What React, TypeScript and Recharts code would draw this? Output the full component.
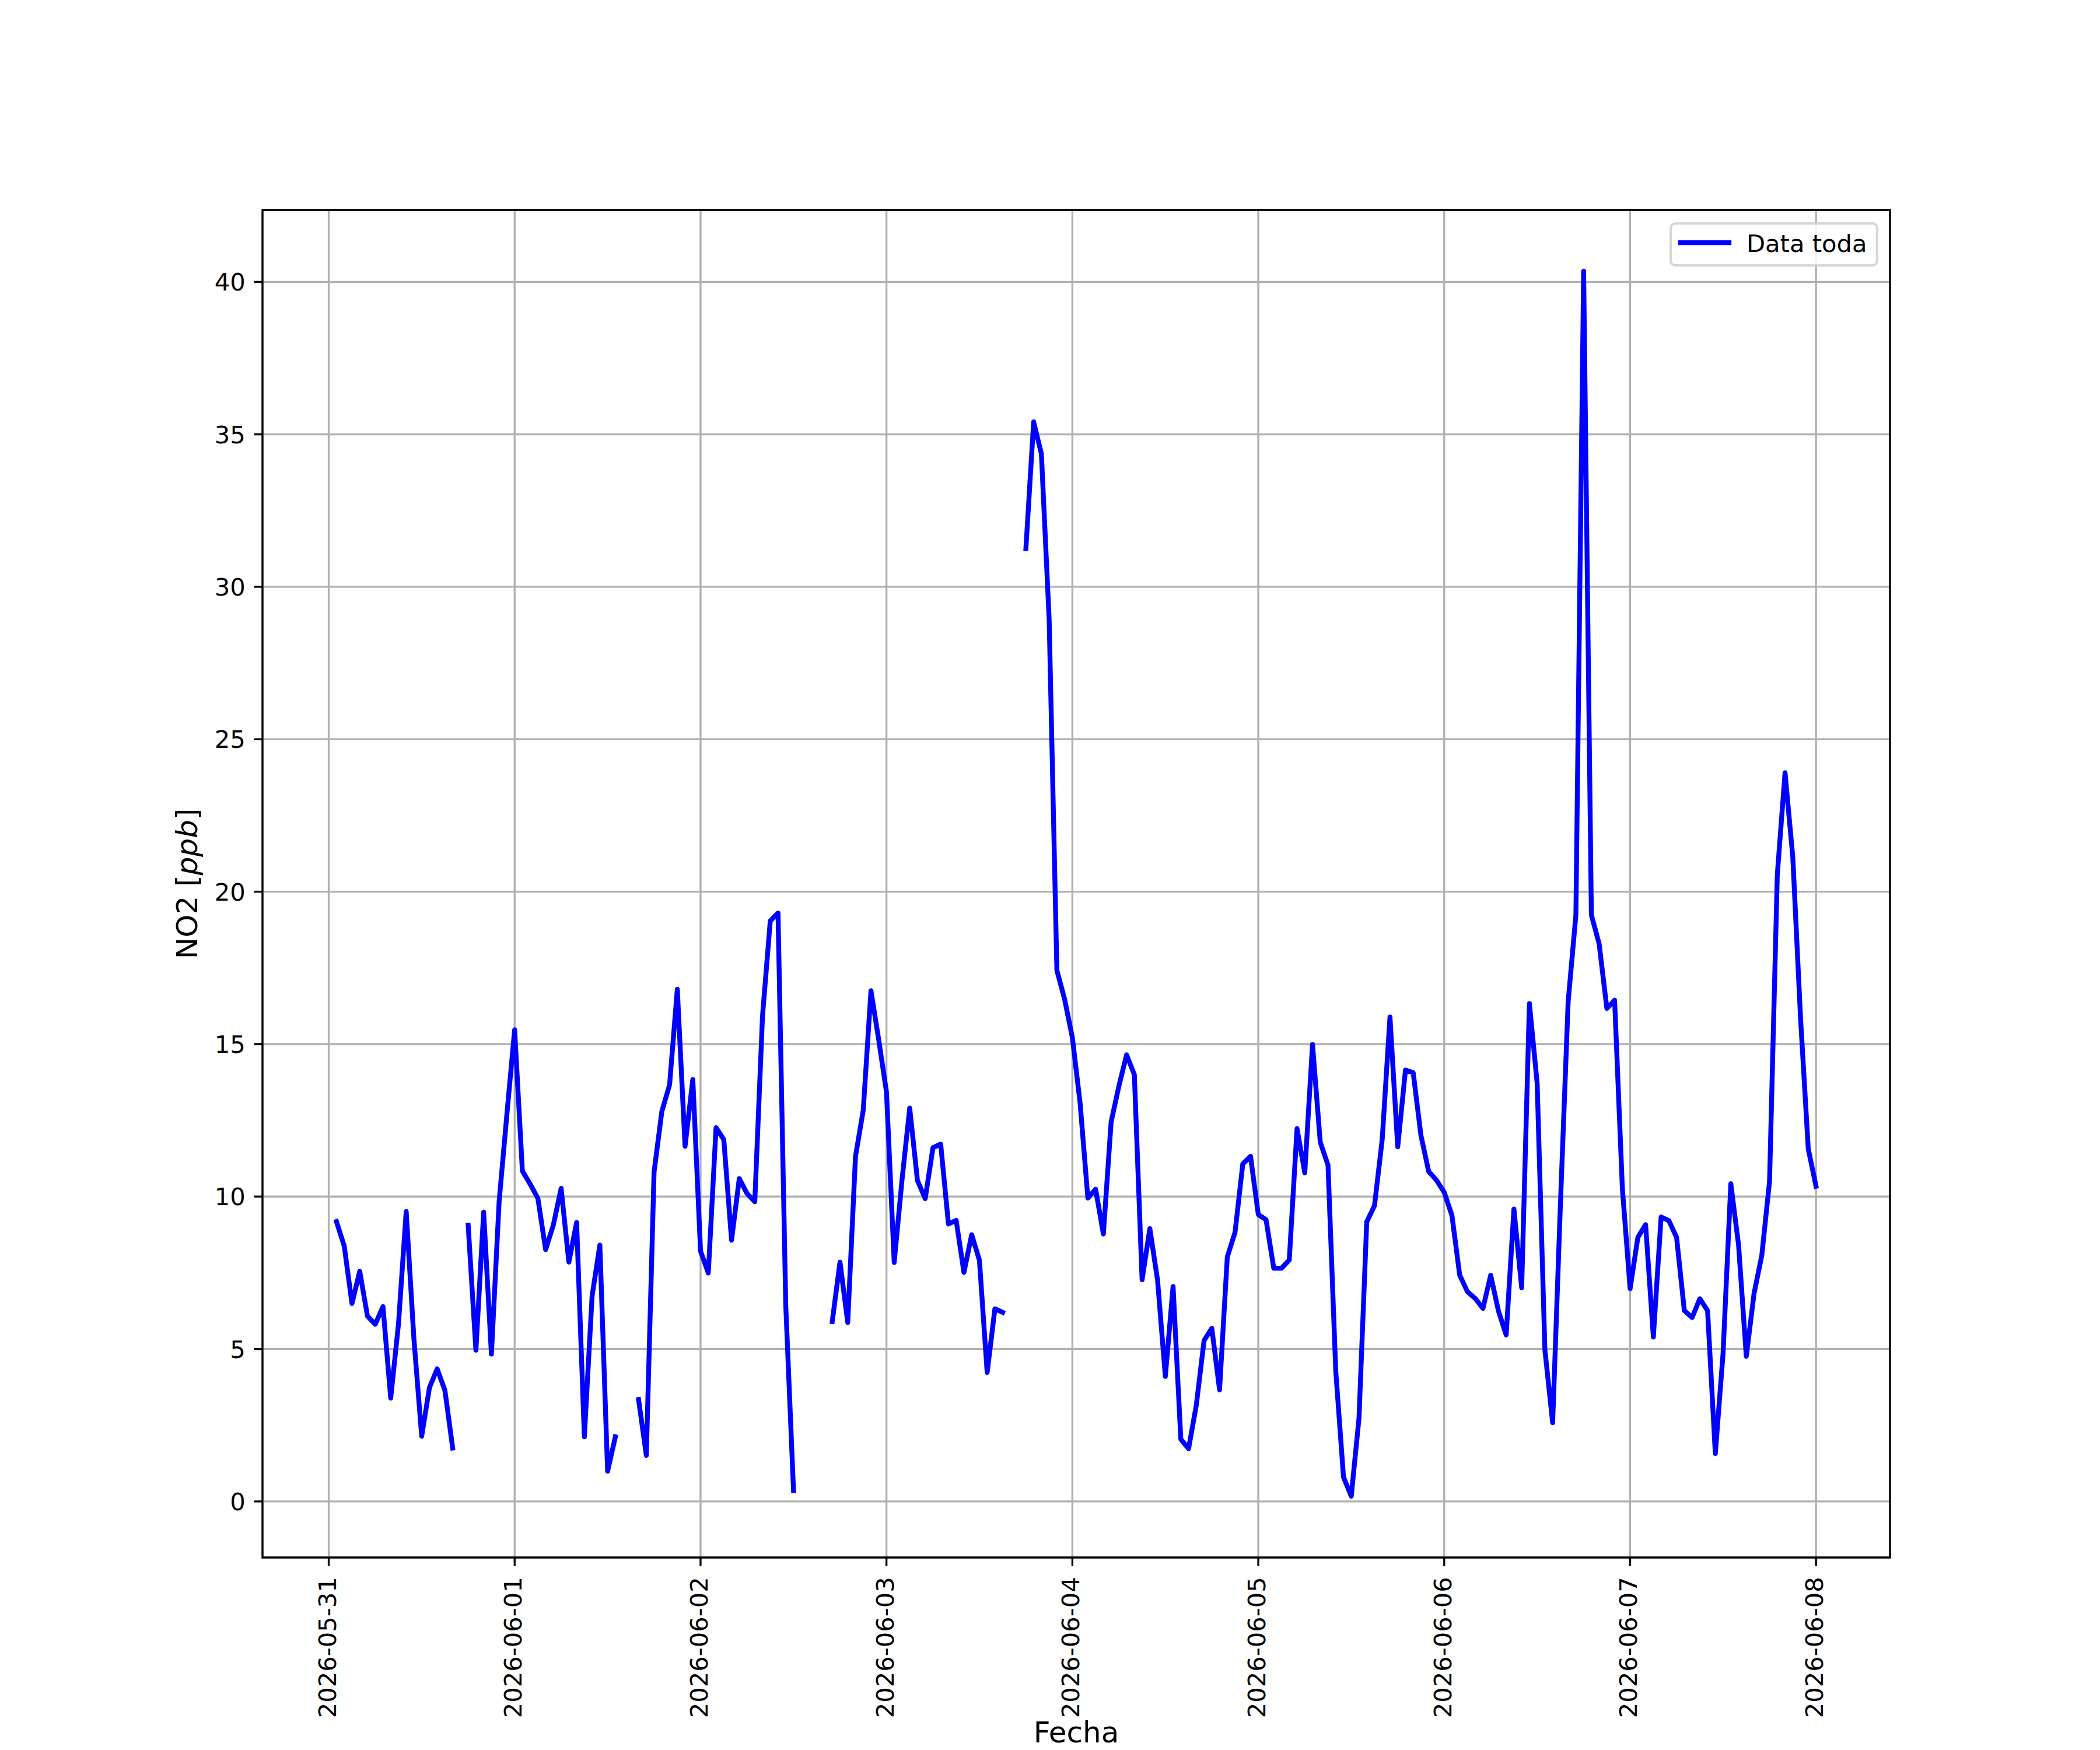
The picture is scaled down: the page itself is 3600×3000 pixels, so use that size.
import React from 'react';
import { LineChart, Line, XAxis, YAxis, CartesianGrid, ReferenceArea, Legend, Label } from 'recharts';

const FONT = "'DejaVu Sans', 'Liberation Sans', sans-serif";

// Tick labels (one per day, at 00:00)
const dateLabels = [
  '2026-05-31', '2026-06-01', '2026-06-02', '2026-06-03', '2026-06-04',
  '2026-06-05', '2026-06-06', '2026-06-07', '2026-06-08',
];
const tickHours = [0, 24, 48, 72, 96, 120, 144, 168, 192];
const yTicks = [0, 5, 10, 15, 20, 25, 30, 35, 40];

// Hourly NO2 [ppb], index = hour of day (00..23); null = missing
const may31 = [null, 9.18, 8.38, 6.49, 7.55, 6.08, 5.81, 6.39, 3.39, 5.81, 9.51, 5.32, 2.14, 3.73, 4.35, 3.64, 1.75, null, 9.06, 4.96, 9.49, 4.83, 9.85, 12.7];
const jun01 = [15.47, 10.84, 10.41, 9.94, 8.26, 9.07, 10.27, 7.85, 9.15, 2.12, 6.74, 8.41, 0.99, 2.12, null, null, 3.34, 1.51, 10.81, 12.79, 13.66, 16.8, 11.65, 13.84];
const jun02 = [8.21, 7.49, 12.26, 11.87, 8.57, 10.59, 10.1, 9.83, 15.93, 19.04, 19.3, 6.43, 0.36, null, null, null, null, 5.9, 7.85, 5.87, 11.31, 12.83, 16.75, 15.14];
const jun03 = [13.43, 7.84, 10.53, 12.9, 10.53, 9.93, 11.6, 11.72, 9.1, 9.22, 7.51, 8.75, 7.91, 4.23, 6.32, 6.2, null, null, 31.25, 35.41, 34.36, 28.94, 17.42, 16.47];
const jun04 = [15.21, 13.06, 9.95, 10.24, 8.77, 12.44, 13.62, 14.65, 14.0, 7.27, 8.95, 7.25, 4.1, 7.05, 2.04, 1.73, 3.16, 5.28, 5.68, 3.66, 8.02, 8.83, 11.07, 11.32];
const jun05 = [9.41, 9.24, 7.65, 7.65, 7.92, 12.23, 10.78, 14.99, 11.78, 11.03, 4.28, 0.8, 0.17, 2.73, 9.17, 9.7, 11.88, 15.89, 11.63, 14.15, 14.06, 12.0, 10.82, 10.54];
const jun06 = [10.14, 9.38, 7.42, 6.88, 6.66, 6.33, 7.42, 6.25, 5.46, 9.59, 7.01, 16.33, 13.72, 4.97, 2.58, 9.73, 16.39, 19.24, 40.35, 19.24, 18.29, 16.17, 16.44, 10.27];
const jun07 = [6.98, 8.66, 9.08, 5.39, 9.33, 9.21, 8.66, 6.26, 6.03, 6.65, 6.26, 1.57, 4.86, 10.42, 8.41, 4.76, 6.82, 8.07, 10.5, 20.55, 23.9, 21.14, 15.86, 11.56];
const jun08 = [10.34];

const days = [may31, jun01, jun02, jun03, jun04, jun05, jun06, jun07, jun08];

const data = days.flatMap((vals, d) => vals.map((v, h) => ({ t: d * 24 + h, no2: v })));

const valid = data.filter((p) => p.no2 !== null);
const tMin = Math.min(...valid.map((p) => p.t));
const tMax = Math.max(...valid.map((p) => p.t));
const vMin = Math.min(...valid.map((p) => p.no2 as number));
const vMax = Math.max(...valid.map((p) => p.no2 as number));
const xPad = (tMax - tMin) * 0.05;
const yPad = (vMax - vMin) * 0.05;
const xDomain: [number, number] = [tMin - xPad, tMax + xPad];
const yDomain: [number, number] = [vMin - yPad, vMax + yPad];

const TICK_FS = 41.67;
const LABEL_FS = 50;
const LW = 3.33;

const XTick = (props: any) => {
  const { x, y, payload } = props;
  const label = dateLabels[tickHours.indexOf(payload.value)];
  const bx = x + 12;
  const by = y + 4;
  return (
    <text x={bx} y={by} transform={`rotate(-90 ${bx} ${by})`} textAnchor="end" fontFamily={FONT} fontSize={TICK_FS} fill="#000">
      {label}
    </text>
  );
};

const YTick = (props: any) => {
  const { x, y, payload } = props;
  return (
    <text x={x} y={y + 15} textAnchor="end" fontFamily={FONT} fontSize={TICK_FS} fill="#000">
      {payload.value}
    </text>
  );
};

const YLabel = (props: any) => {
  const vb = props.viewBox || {};
  const cx = vb.x + vb.width - 112;
  const cy = vb.y + vb.height / 2;
  return (
    <text x={cx} y={cy} transform={`rotate(-90 ${cx} ${cy})`} textAnchor="middle" fontFamily={FONT} fontSize={LABEL_FS} fill="#000">
      NO2 [<tspan fontStyle="italic">ppb</tspan>]
    </text>
  );
};

const XLabel = (props: any) => {
  const vb = props.viewBox || {};
  const cx = vb.x + vb.width / 2;
  const cy = vb.y + vb.height + 316;
  return (
    <text x={cx} y={cy} textAnchor="middle" fontFamily={FONT} fontSize={LABEL_FS} fill="#000">
      Fecha
    </text>
  );
};

const LegendBox = (props: any) => {
  const payload = props.payload || [];
  const entry = payload[0] || { value: 'Data toda', color: '#0000ff' };
  return (
    <svg width={358} height={76} style={{ display: 'block', overflow: 'visible' }}>
      <rect x={2} y={2} width={354} height={72} rx={8} ry={8} fill="#ffffff" fillOpacity={0.8} stroke="#cccccc" strokeOpacity={0.8} strokeWidth={4} />
      <line x1={19} x2={102} y1={35} y2={35} stroke={entry.color} strokeWidth={8.33} strokeLinecap="square" />
      <text x={132} y={51} fontFamily={FONT} fontSize={TICK_FS} fill="#000">
        {entry.value}
      </text>
    </svg>
  );
};

export default function App() {
  return (
    <div style={{ position: 'absolute', left: 0, top: 0, width: 3600, height: 3000, background: '#ffffff' }}>
      <LineChart width={3600} height={3000} data={data} margin={{ top: 360, right: 360, bottom: 329, left: 449 }}>
        <CartesianGrid stroke="#b0b0b0" strokeWidth={LW} />
        <XAxis
          dataKey="t"
          type="number"
          domain={xDomain}
          ticks={tickHours}
          interval={0}
          allowDataOverflow
          height={1}
          axisLine={false}
          tickSize={14.58}
          tickMargin={14.58}
          tickLine={{ stroke: '#000', strokeWidth: LW }}
          tick={<XTick />}
        >
          <Label content={<XLabel />} />
        </XAxis>
        <YAxis
          type="number"
          domain={yDomain}
          ticks={yTicks}
          interval={0}
          allowDataOverflow
          width={1}
          axisLine={false}
          tickSize={14.58}
          tickMargin={14.58}
          tickLine={{ stroke: '#000', strokeWidth: LW }}
          tick={<YTick />}
        >
          <Label content={<YLabel />} />
        </YAxis>
        <Line
          type="linear"
          dataKey="no2"
          name="Data toda"
          stroke="#0000ff"
          strokeWidth={8.33}
          strokeLinejoin="round"
          strokeLinecap="square"
          dot={false}
          activeDot={false}
          connectNulls={false}
          isAnimationActive={false}
        />
        <ReferenceArea
          x1={xDomain[0]}
          x2={xDomain[1]}
          y1={yDomain[0]}
          y2={yDomain[1]}
          fill="none"
          fillOpacity={0}
          stroke="#000"
          strokeWidth={LW}
          ifOverflow="visible"
        />
        <Legend
          layout="horizontal"
          verticalAlign="middle"
          align="center"
          content={<LegendBox />}
          wrapperStyle={{ left: 2862, top: 381, width: 358, height: 76 }}
        />
      </LineChart>
    </div>
  );
}
